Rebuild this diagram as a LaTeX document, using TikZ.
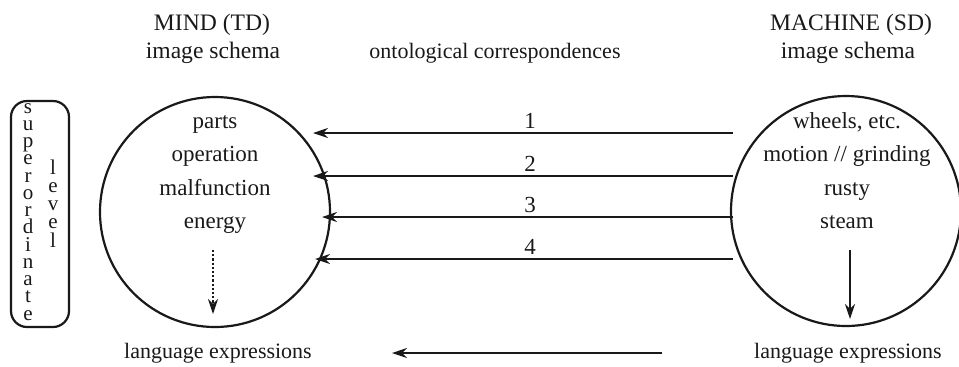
\documentclass[tikz,border=0pt]{standalone}
\usepackage{fontspec}
\setmainfont{Liberation Serif}
\usepackage{tikz}
\usetikzlibrary{arrows.meta,positioning,calc}
\definecolor{ink}{RGB}{25,25,25}

\begin{document}
\begin{tikzpicture}[x=0.5pt, y=-0.5pt,
    lbl/.style={inner sep=0pt, anchor=base, text=ink, font=\fontsize{11}{13}\selectfont},
    big/.style={lbl, font=\fontsize{11.8}{14}\selectfont},
    item/.style={lbl, font=\fontsize{11.5}{14}\selectfont},
    corr/.style={ink, line width=1.1pt, -{Stealth[length=7.5pt, width=5pt]}},
    schema/.style={draw=ink, line width=1.1pt, circle, minimum size=115pt, inner sep=0pt}]
% Conceptual metaphor: MIND is a MACHINE
\useasboundingbox (0,0) rectangle (959,366);

% Headings
\node[big] (mindhd) at (212,30) {MIND (TD)};
\node[big] (mindsch) at (213,58) {image schema};
\node[lbl] (onto) at (495,58) {ontological correspondences};
\node[big] (machhd) at (851,30) {MACHINE (SD)};
\node[big] (machsch) at (848,58) {image schema};

% Level box
\draw[ink, line width=1.1pt, rounded corners=8pt] (11,101) rectangle (69,327);
\foreach \c [count=\i] in {s,u,p,e,r,o,r,d,i,n,a,t,e} {
    \node[lbl, font=\fontsize{10.5}{12}\selectfont] (sup\i) at (28, {113+17.25*(\i-1)}) {\c};
}
\foreach \c [count=\i] in {l,e,v,e,l} {
    \node[lbl, font=\fontsize{10.5}{12}\selectfont] (lev\i) at (53, {174+18.25*(\i-1)}) {\c};
}

% Image schemas
\node[schema] (mind) at (215,212) {};
\node[schema] (machine) at (846,211) {};

\foreach \txt [count=\i] in {parts, operation, malfunction, energy} {
    \node[item] (mt\i) at (215, {128+33.5*(\i-1)}) {\txt};
}
\foreach \txt [count=\i] in {{wheels, etc.}, motion // grinding, rusty, steam} {
    \node[item] (st\i) at (847, {128+33.5*(\i-1)}) {\txt};
}

% Correspondences (source -> target)
\foreach \i/\y/\tip in {1/133/313, 2/176/313, 3/217/322, 4/259/315} {
    \coordinate (src\i) at (733,\y);
    \coordinate (tgt\i) at (\tip,\y);
    \draw[corr] (src\i) -- (tgt\i);
    \node[item, anchor=south] (num\i) at (530,{\y-4}) {\i};
}

% Down to language
\coordinate (mdtop) at (213,250);
\coordinate (mdbot) at (213,314);
\draw[corr, densely dotted, line width=0.9pt] (mdtop) -- (mdbot);
\coordinate (sdtop) at (850,250);
\coordinate (sdbot) at (850,319);
\draw[corr] (sdtop) -- (sdbot);

\node[lbl] (langL) at (218,358) {language expressions};
\node[lbl] (langR) at (848,358) {language expressions};
\coordinate (lsrc) at (662,353);
\coordinate (ltgt) at (392,353);
\draw[corr] (lsrc) -- (ltgt);

\end{tikzpicture}
\end{document}
